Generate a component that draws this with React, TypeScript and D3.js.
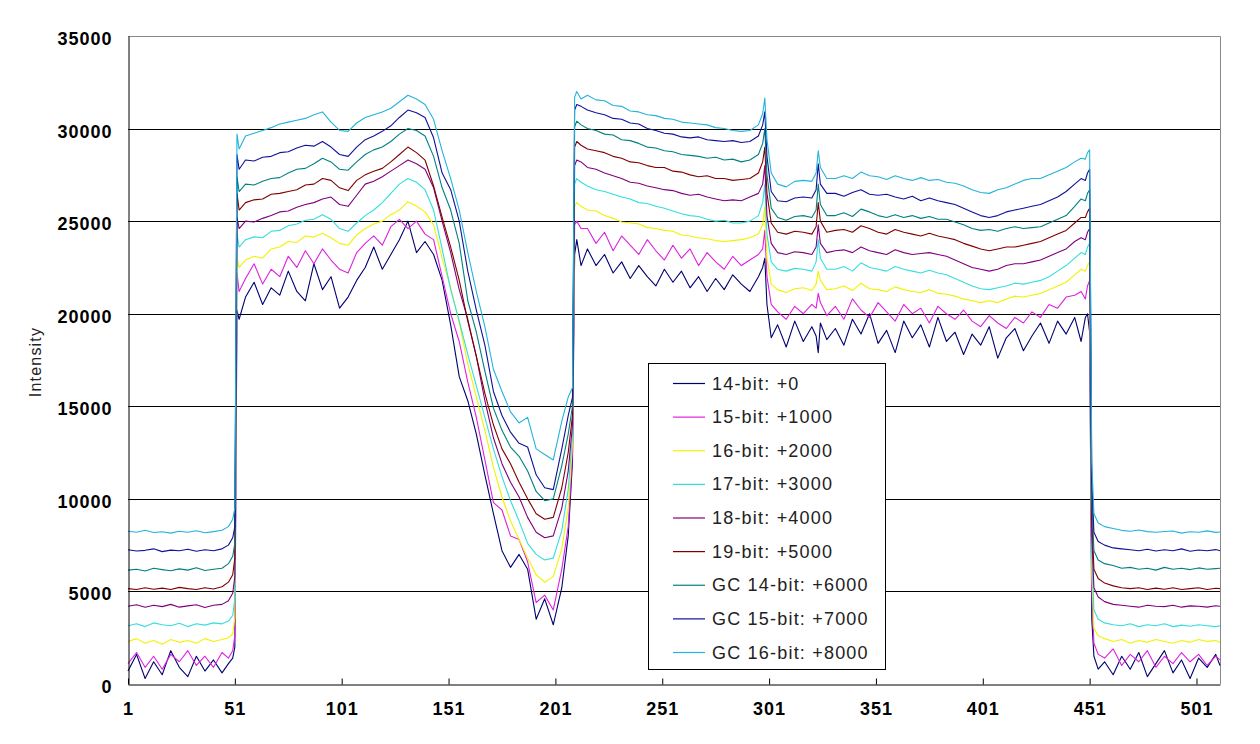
import React, { useEffect, useRef } from 'react';
import * as d3 from 'd3';

// pixel index along the scan line where each sample was read
const sampleIndex = [
  1, 5, 9, 13, 17, 21, 25, 29, 33, 37, 41, 45, 48,
  50, 51, 52, 53,
  56, 60, 64, 68, 72, 76, 80, 84, 88, 92, 96, 100, 104, 108, 112, 116, 120, 124, 128, 132, 136, 140, 144, 148,
  152, 156, 160, 164, 168, 172, 176, 180, 184, 188, 192, 196, 200, 204, 207,
  209, 210, 211, 213,
  216, 220, 224, 228, 232, 236, 240, 244, 248, 252, 256, 260, 264, 268, 272, 276, 280, 284, 288, 292, 296,
  298, 299, 300, 302,
  305, 309, 313, 317, 321, 323, 324, 325, 328,
  332, 336, 340, 344, 348, 352, 356, 360, 364, 368, 372, 376, 380, 384, 388, 392, 396, 400, 404, 408, 412, 416, 420, 424, 428, 432, 436, 440, 444,
  447, 449, 450, 451, 452, 453, 455,
  458, 462, 466, 470, 474, 478, 482, 486, 490, 494, 498, 502, 506, 510, 512,
];

const bit14 = [
  700, 1600, 300, 1200, 500, 1800, 900, 400, 1500, 700, 1300, 600, 1100,
  1400, 2000, 20200, 19700,
  20900, 21700, 20500, 21400, 21000, 22300, 21200, 20700, 22700, 21300, 22000, 20300, 20900, 21800, 22500, 23600, 22400, 23200, 24000, 25000, 23300, 23900, 23200, 21800,
  19400, 16600, 15300, 13500, 11300, 9200, 7200, 6300, 7000, 6200, 3500, 4600, 3200, 5200, 8000,
  12000, 23200, 24000, 22600,
  23500, 22600, 23200, 22200, 22800, 21900, 22600, 22000, 21500, 22400, 21700, 22300, 21400, 22000, 21200, 21900, 21300, 22100, 21600, 21200, 22000,
  22500, 23000, 20500, 18700,
  19400, 18200, 19600, 18500, 19300, 18800, 17900, 19500, 18600,
  19200, 18300, 19700, 18900, 20000, 18400, 19100, 17900, 19600, 18700, 19400, 18200, 19800, 18500, 19000, 17800, 18900, 18300, 19300, 17600, 18700, 19200, 18000, 18800, 19500, 18400, 19600, 18900, 19800,
  18500, 19800, 20000, 19000, 3500, 1500, 800,
  1200, 500, 1500, 800, 1700, 400, 1100, 1800, 600, 1300, 300, 1400, 900, 1600, 1000,
];

const bit15 = [
  1100, 1700, 900, 1500, 800, 1600, 1200, 1800, 1000, 1500, 900, 1700, 1400,
  1800, 2600, 22200, 21200,
  21900, 22700, 21600, 22400, 22000, 23100, 22500, 23400, 22700, 23500, 22900, 22400, 22200, 23300, 23800, 24200, 23700, 24700, 25100, 24600, 25000, 24300, 24000, 22000,
  20000, 18500, 16300, 14400, 12100, 9800, 9400, 8000, 7800, 6600, 4400, 4800, 4000, 6200, 8500,
  12500, 24800, 25000, 24600,
  24600, 23800, 24400, 23400, 24200, 23700, 23200, 24000, 23400, 22900, 23700, 23000, 23500, 22600, 23300, 22800, 22400, 23100, 22600, 22900, 23200,
  23500, 24500, 22000, 20500,
  20100, 19700, 20400, 20000, 20500, 20300, 21100, 20600, 19900,
  20400, 19700, 20800, 20200, 19800, 20600, 20100, 19600, 20500, 20000, 20300, 19500, 20400, 20000, 19700, 20200, 19600, 19300, 19900, 19500, 19200, 19800, 19500, 20100, 19800, 20500, 20300, 20900, 21000,
  21200, 20800, 21500, 21800, 5000, 2200, 1600,
  1400, 1900, 1000, 1600, 1200, 1800, 900, 1500, 1100, 1700, 1200, 1600, 1000, 1500, 1300,
];

const bit16 = [
  2300, 2450, 2200, 2350, 2150, 2400, 2250, 2350, 2200, 2450, 2300, 2400, 2500,
  2700, 3600, 23000, 22500,
  22900, 23100, 23000, 23500, 23600, 23900, 23850, 24200, 24150, 24350, 24100, 23800, 23700, 24250, 24600, 24850, 25000, 25350, 25600, 26050, 25800, 25500, 24800, 23000,
  21400, 19500, 17300, 15500, 13700, 11700, 10100, 8800, 7800, 6800, 5900, 5500, 5800, 7300, 9500,
  13000, 25800, 26000, 25800,
  25600, 25550, 25300, 25150, 24950, 24900, 24850, 24650, 24600, 24500, 24450, 24250, 24200, 24100, 24050, 23950, 23900, 23950, 24000, 24100, 24300,
  24800, 25800, 23000, 21600,
  21300, 21150, 21350, 21400, 21250, 21600, 22300, 21800, 21300,
  21350, 21500, 21250, 21650, 21350, 21300, 21200, 21450, 21300, 21200, 21150, 21300, 21100, 21050, 20950, 20800, 20700, 20600, 20700, 20600, 20800, 20950, 20900, 21000, 21100, 21300, 21500, 21700, 22100,
  22400, 22300, 22600, 22800, 6000, 3000, 2600,
  2450, 2300, 2400, 2200, 2350, 2250, 2400, 2300, 2200, 2350, 2250, 2400, 2300, 2350, 2250,
];

const bit17 = [
  3150, 3250, 3100, 3300, 3200, 3150, 3280, 3100, 3250, 3180, 3300, 3250, 3400,
  3700, 4600, 24300, 23600,
  24000, 24150, 24100, 24450, 24500, 24750, 24850, 25050, 25100, 25350, 25100, 24600, 24450, 24900, 25300, 25600, 26000, 26500, 27000, 27300, 27100, 26700, 25600, 23500,
  21300, 19600, 17800, 16100, 14400, 12700, 11200, 9900, 8800, 7600, 7000, 6700, 6800, 8300, 10500,
  13500, 27000, 27300, 27100,
  26900, 26700, 26600, 26450, 26300, 26200, 26000, 25950, 25800, 25700, 25550, 25400, 25300, 25250, 25100, 25000, 25050, 24900, 24900, 25000, 25300,
  26000, 27000, 24300, 22800,
  22400, 22300, 22450, 22400, 22300, 22800, 24000, 23000, 22400,
  22400, 22550, 22300, 22750, 22500, 22400, 22300, 22550, 22400, 22300, 22200, 22350, 22200, 22100, 21900, 21700, 21500, 21350, 21300, 21400, 21500, 21650, 21600, 21700, 21800, 22000, 22300, 22600, 23000,
  23300, 23200, 23600, 23800, 7000, 4000, 3500,
  3300, 3200, 3150, 3250, 3100, 3200, 3150, 3250, 3100, 3180, 3120, 3200, 3150, 3100, 3150,
];

const bit18 = [
  4200, 4280, 4150, 4250, 4180, 4300, 4150, 4220, 4280, 4130, 4250, 4300, 4500,
  4900, 5800, 25200, 24600,
  25000, 24950, 25150, 25300, 25500, 25550, 25750, 25900, 26000, 26200, 26300, 25900, 25800, 26400, 27000, 27150, 27400, 27700, 28000, 28300, 28100, 27800, 26800, 25000,
  23300, 21300, 19700, 17700, 15300, 13300, 11900, 10900, 10100, 9000, 8200, 7900, 8000, 9500, 11500,
  14000, 28000, 28300, 28200,
  27900, 27800, 27600, 27450, 27300, 27100, 27050, 26900, 26800, 26700, 26650, 26500, 26400, 26450, 26300, 26200, 26100, 26150, 26100, 26300, 26500,
  27000, 28000, 25300, 23800,
  23300, 23200, 23350, 23300, 23200, 23600, 24800, 23800, 23300,
  23400, 23450, 23300, 23600, 23400, 23300, 23200, 23450, 23300, 23200, 23250, 23300, 23200, 23100, 22900, 22700, 22500, 22400, 22300, 22400, 22600, 22700, 22700, 22800, 22900, 23100, 23300, 23500, 23900,
  24100, 24000, 24400, 24600, 8000, 5200, 4700,
  4450, 4300, 4250, 4200, 4150, 4250, 4200, 4180, 4250, 4150, 4220, 4200, 4150, 4230, 4200,
];

const bit19 = [
  5150, 5100, 5200, 5120, 5180, 5100, 5220, 5150, 5100, 5200, 5130, 5250, 5500,
  5900, 6800, 26500, 25600,
  26000, 26150, 26200, 26450, 26500, 26600, 26700, 26950, 27000, 27300, 27200, 26800, 26650, 27200, 27500, 27700, 27850, 28200, 28600, 29000, 28700, 28300, 26900, 25200,
  23600, 21800, 19600, 17700, 15700, 14000, 12700, 11900, 10900, 10000, 9200, 8900, 9000, 10600, 12500,
  14500, 29000, 29300, 29100,
  28900, 28800, 28700, 28500, 28400, 28200, 28150, 28000, 27900, 27900, 27700, 27650, 27500, 27400, 27450, 27300, 27300, 27200, 27250, 27300, 27600,
  28200, 29000, 26500, 24900,
  24400, 24300, 24450, 24400, 24300, 24700, 26000, 25000, 24400,
  24500, 24550, 24400, 24750, 24600, 24400, 24300, 24550, 24400, 24300, 24200, 24350, 24200, 24100, 24000, 23800, 23650, 23500, 23400, 23500, 23600, 23600, 23700, 23800, 23900, 24100, 24300, 24500, 24900,
  25200, 25200, 25500, 25700, 9000, 6200, 5700,
  5450, 5300, 5200, 5150, 5200, 5100, 5180, 5120, 5200, 5100, 5150, 5200, 5100, 5170, 5150,
];

const gc14 = [
  6150, 6200, 6100, 6250, 6180, 6120, 6220, 6150, 6280, 6130, 6200, 6250, 6500,
  6900, 7600, 27400, 26600,
  27000, 26950, 27150, 27300, 27350, 27600, 27800, 27850, 28100, 28400, 28200, 27800, 27750, 28200, 28600, 28850, 29000, 29300, 29700, 30000, 29900, 29600, 28500, 26800,
  25600, 23800, 20700, 19000, 16900, 14900, 13700, 12800, 12300, 11500, 10400, 9900, 10000, 11800, 13500,
  15000, 30100, 30400, 30200,
  30000, 29900, 29700, 29650, 29400, 29350, 29200, 29000, 28950, 28800, 28750, 28600, 28550, 28500, 28400, 28450, 28300, 28350, 28200, 28300, 28600,
  29200, 30000, 27500, 25700,
  25200, 25050, 25250, 25300, 25200, 25600, 27000, 25900, 25300,
  25300, 25450, 25250, 25650, 25500, 25300, 25200, 25350, 25200, 25300, 25150, 25250, 25100, 25100, 24950, 24800, 24600, 24500, 24550, 24450, 24600, 24700, 24600, 24650, 24700, 24900, 25100, 25300, 25800,
  26200, 26100, 26500, 26700, 10000, 7200, 6700,
  6500, 6400, 6250, 6300, 6200, 6250, 6150, 6300, 6200, 6250, 6180, 6270, 6200, 6230, 6250,
];

const gc15 = [
  7250, 7180, 7220, 7300, 7150, 7230, 7200, 7280, 7170, 7250, 7200, 7300, 7500,
  7900, 8500, 28600, 27800,
  28300, 28250, 28450, 28500, 28700, 28750, 28950, 29100, 29050, 29300, 29000, 28600, 28500, 29000, 29400, 29600, 29850, 30150, 30600, 31000, 30850, 30600, 29500, 27600,
  26700, 25000, 22300, 20200, 18300, 15800, 14500, 13600, 13000, 12800, 11300, 10600, 10500, 12700, 14500,
  15500, 31000, 31300, 31200,
  31000, 30850, 30750, 30550, 30500, 30300, 30250, 30000, 29900, 29750, 29700, 29550, 29500, 29550, 29400, 29350, 29300, 29350, 29250, 29300, 29600,
  30200, 30900, 28500, 26600,
  26100, 26050, 26250, 26300, 26250, 26700, 28100, 27000, 26500,
  26500, 26350, 26550, 26700, 26450, 26400, 26450, 26300, 26200, 26350, 26100, 26250, 26100, 26000, 25900, 25700, 25500, 25300, 25200, 25300, 25500, 25600, 25700, 25800, 25900, 26100, 26300, 26600, 27000,
  27300, 27200, 27600, 27800, 11000, 8200, 7700,
  7500, 7350, 7300, 7250, 7200, 7280, 7180, 7250, 7200, 7300, 7170, 7240, 7200, 7260, 7200,
];

const gc16 = [
  8250, 8200, 8300, 8180, 8220, 8150, 8250, 8200, 8280, 8170, 8230, 8300, 8500,
  8900, 9500, 29700, 28900,
  29600, 29750, 29900, 30050, 30250, 30350, 30450, 30550, 30750, 30900, 30350, 29900, 29850, 30300, 30600, 30750, 30900, 31100, 31450, 31800, 31600, 31300, 30500, 28800,
  27300, 25600, 23300, 21200, 19300, 17000, 15800, 14700, 14100, 14400, 12700, 12400, 12100, 14200, 15500,
  16000, 31700, 32000, 31600,
  31800, 31550, 31500, 31250, 31200, 30950, 30900, 30750, 30700, 30550, 30500, 30350, 30300, 30250, 30200, 30050, 30000, 29900, 29850, 29900, 30200,
  30800, 31650, 29400, 27600,
  27000, 26850, 27150, 27200, 27150, 27600, 28800, 27900, 27300,
  27300, 27450, 27300, 27650, 27450, 27400, 27250, 27450, 27300, 27200, 27350, 27200, 27250, 27100, 27050, 26900, 26700, 26550, 26500, 26700, 26800, 27000, 27200, 27300, 27300, 27500, 27700, 27900, 28200,
  28400, 28350, 28700, 28850, 12000, 9200, 8700,
  8500, 8400, 8300, 8250, 8320, 8230, 8200, 8240, 8260, 8150, 8220, 8200, 8270, 8190, 8210,
];

const seriesNames = [
  '14-bit: +0', '15-bit: +1000', '16-bit: +2000', '17-bit: +3000', '18-bit: +4000',
  '19-bit: +5000', 'GC 14-bit: +6000', 'GC 15-bit: +7000', 'GC 16-bit: +8000',
];
const seriesValues = [bit14, bit15, bit16, bit17, bit18, bit19, gc14, gc15, gc16];
const seriesColors = [
  '#000070', '#dd22dd', '#f2f200', '#33dede', '#800080', '#800000', '#008080', '#10109a', '#22b4da',
];

const yTicks = [0, 5000, 10000, 15000, 20000, 25000, 30000, 35000];
const xTickLabels = [1, 51, 101, 151, 201, 251, 301, 351, 401, 451, 501];

const W = 1260, H = 744;
const plot = { l: 128, r: 1220, t: 36, b: 684 };

export default function App() {
  const ref = useRef<SVGSVGElement>(null);

  useEffect(() => {
    const svg = d3.select(ref.current);
    svg.selectAll('*').remove();

    const x = d3.scaleLinear().domain([1, 512]).range([plot.l, plot.r]);
    const y = d3.scaleLinear().domain([0, 35000]).range([plot.b, plot.t]);

    svg.append('rect').attr('width', W).attr('height', H).attr('fill', '#fff');

    // horizontal gridlines
    svg.append('g')
      .selectAll('line')
      .data(yTicks.filter((t) => t > 0 && t < 35000))
      .join('line')
      .attr('x1', plot.l).attr('x2', plot.r)
      .attr('y1', (d) => Math.round(y(d)) + 0.5).attr('y2', (d) => Math.round(y(d)) + 0.5)
      .attr('stroke', '#000').attr('stroke-width', 1);

    // plot frame (top / right grey)
    svg.append('path')
      .attr('d', `M${plot.l},${plot.t + 0.5}H${plot.r + 0.5}V${plot.b}`)
      .attr('fill', 'none').attr('stroke', '#888').attr('stroke-width', 1);

    // series lines
    const line = d3.line<number>()
      .x((_, i) => x(sampleIndex[i]))
      .y((d) => y(d));

    svg.append('g')
      .selectAll('path')
      .data(seriesValues)
      .join('path')
      .attr('d', (d) => line(d))
      .attr('fill', 'none')
      .attr('stroke', (_, i) => seriesColors[i])
      .attr('stroke-width', 1.1)
      .attr('stroke-linejoin', 'round');

    // y axis
    const yAxis = d3.axisLeft(y).tickValues(yTicks).tickFormat(d3.format('d')).tickSize(0).tickPadding(16);
    const yg = svg.append('g').attr('transform', `translate(${plot.l + 0.5},0)`).call(yAxis);
    yg.select('.domain').attr('stroke', '#000');
    yg.selectAll('text')
      .attr('dy', '0.47em')
      .style('font-family', '"Liberation Sans", Arial, sans-serif')
      .style('font-size', '18px')
      .style('font-weight', 'bold')
      .style('letter-spacing', '1px')
      .attr('fill', '#000');

    // x axis
    const xAxis = d3.axisBottom(x).tickValues(xTickLabels).tickFormat(d3.format('d'))
      .tickSizeInner(-6).tickSizeOuter(0).tickPadding(18);
    const xg = svg.append('g').attr('transform', `translate(0,${plot.b + 0.5})`).call(xAxis);
    xg.select('.domain').attr('stroke', '#000');
    xg.selectAll('.tick line').attr('stroke', '#000');
    xg.selectAll('text')
      .attr('y', 18)
      .style('font-family', '"Liberation Sans", Arial, sans-serif')
      .style('font-size', '18px')
      .style('font-weight', 'bold')
      .style('letter-spacing', '1px')
      .attr('fill', '#000');

    // axis title
    svg.append('text')
      .attr('transform', `translate(41,${(plot.t + plot.b) / 2 + 2}) rotate(-90)`)
      .attr('text-anchor', 'middle')
      .style('font-family', '"Liberation Sans", Arial, sans-serif')
      .style('font-size', '16px')
      .style('letter-spacing', '1.2px')
      .attr('fill', '#222')
      .text('Intensity');

    // legend
    const lg = svg.append('g');
    lg.append('rect')
      .attr('x', 648.5).attr('y', 363.5).attr('width', 237).attr('height', 306)
      .attr('fill', '#fff').attr('stroke', '#000').attr('stroke-width', 1);
    const rowY = d3.scalePoint<string>().domain(seriesNames).range([383, 652]);
    const items = lg.selectAll('g.item').data(seriesNames).join('g')
      .attr('class', 'item')
      .attr('transform', (d) => `translate(0,${rowY(d)})`);
    items.append('line')
      .attr('x1', 673).attr('x2', 705).attr('y1', 0.5).attr('y2', 0.5)
      .attr('stroke', (_, i) => seriesColors[i]).attr('stroke-width', 1.2);
    items.append('text')
      .attr('x', 712).attr('y', 6.5)
      .style('font-family', '"Liberation Sans", Arial, sans-serif')
      .style('font-size', '18px')
      .style('letter-spacing', '1.2px')
      .attr('fill', '#222')
      .text((d) => d);
  }, []);

  return (
    <svg
      ref={ref}
      width={W}
      height={H}
      style={{ position: 'absolute', left: 0, top: 0, display: 'block' }}
    />
  );
}
